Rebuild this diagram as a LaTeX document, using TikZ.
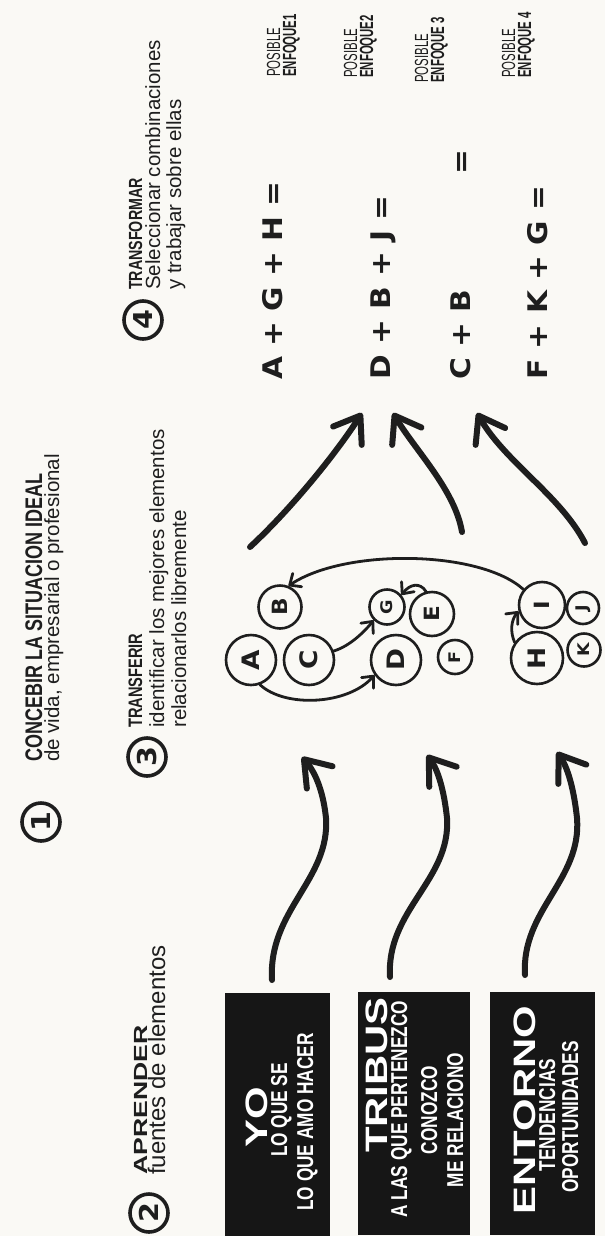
\documentclass[tikz,border=0pt]{standalone}
\usepackage{fontspec}
\setmainfont{Liberation Sans}
\newfontfamily\narrowfont[FakeStretch=0.75]{Liberation Sans}
\newfontfamily\tightfont[FakeStretch=0.6]{Liberation Sans}
\newfontfamily\widefont[FakeStretch=1.35]{Liberation Sans}
\newfontfamily\heavyfont[FakeStretch=1.1]{DejaVu Sans}
\usetikzlibrary{arrows.meta}
\definecolor{PaperBg}{RGB}{250,249,245}
\definecolor{InkDark}{RGB}{30,30,30}
\definecolor{BoxDark}{RGB}{22,22,22}
\newcommand{\up}[1]{\rotatebox{90}{#1}}

\begin{document}
\begin{tikzpicture}[
    x=1pt, y=-1pt,
    lbl/.style={rotate=90, anchor=base west, inner sep=0pt, text=InkDark},
    headline/.style={lbl, font=\narrowfont\bfseries\fontsize{#1}{#1}\selectfont},
    subline/.style={lbl, font=\fontsize{#1}{#1}\selectfont},
    subline/.default=20.5,
    numcirc/.style={circle, draw=InkDark, line width=3.6pt, minimum size=38pt, inner sep=0pt,
        text=InkDark, font=\heavyfont\bfseries\fontsize{26}{26}\selectfont},
    letter/.style={circle, draw=InkDark, line width=2.6pt, minimum size=#1, inner sep=0pt, text=InkDark},
    blackbox/.style={fill=BoxDark, inner sep=0pt, minimum height=243pt},
    boxtitle/.style={rotate=90, anchor=base, inner sep=0pt, text=white,
        font=\widefont\bfseries\fontsize{31}{31}\selectfont},
    boxline/.style={rotate=90, anchor=base, inner sep=0pt, text=white,
        font=\narrowfont\bfseries\fontsize{23}{23}\selectfont},
    formula/.style={lbl, font=\heavyfont\bfseries\fontsize{27}{27}\selectfont},
    posible/.style={lbl, font=\tightfont\fontsize{19}{19}\selectfont},
    enfoque/.style={lbl, font=\tightfont\bfseries\fontsize{19}{19}\selectfont},
    bigarrow/.style={draw=InkDark, line width=6pt, line cap=round,
        -{Straight Barb[length=24pt,width=34pt,round]}},
    thinarrow/.style={draw=InkDark, line width=2.8pt, line cap=round,
        -{Straight Barb[length=9pt,width=16pt,round]}}
 ]
\fill[PaperBg] (0,0) rectangle (605,1236);
\useasboundingbox (0,0) rectangle (605,1236);

% the four steps
\node[numcirc] (one) at (41,822) {\up{1}};
\node[headline=24] (concebir) at (42,762) {CONCEBIR LA SITUACION IDEAL};
\node[subline] (concebirsub) at (59,762) {de vida, empresarial o profesional};

\node[numcirc] (two) at (149,1213) {\up{2}};
\node[lbl, font=\bfseries\fontsize{19}{19}\selectfont] (aprender) at (147,1175) {\scalebox{1.4}[1]{APRENDER}};
\node[subline=24] (aprendersub) at (165,1175) {fuentes de elementos};

\node[numcirc] (three) at (147,757) {\up{3}};
\node[headline=19.5] (transferir) at (142,728) {TRANSFERIR};
\node[subline] (transferirsub) at (164,728) {identificar los mejores elementos};
\node[subline] (transferirsubb) at (186,728) {relacionarlos libremente};

\node[numcirc] (four) at (143,320) {\up{4}};
\node[headline=19] (transformar) at (142,290) {TRANSFORMAR};
\node[subline] (transformarsub) at (160,290) {Seleccionar combinaciones};
\node[subline] (transformarsubb) at (181,290) {y trabajar sobre ellas};

% sources
\node[blackbox, minimum width=105pt] (yo) at (277.5,1114.5) {};
\node[blackbox, minimum width=112pt] (tribus) at (414,1113) {};
\node[blackbox, minimum width=105pt] (entorno) at (542.5,1113) {};

\node[boxtitle] (yoT) at (267,1117) {YO};
\node[boxline] (yoA) at (287,1110) {LO QUE SE};
\node[boxline] (yoB) at (313,1122) {LO QUE AMO HACER};

\node[boxtitle] (tribusT) at (387,1075) {TRIBUS};
\node[boxline] (tribusA) at (407,1109) {A LAS QUE PERTENEZCO};
\node[boxline] (tribusB) at (437,1110) {CONOZCO};
\node[boxline] (tribusC) at (463,1120) {ME RELACIONO};

\node[boxtitle] (entornoT) at (535,1110) {ENTORNO};
\node[boxline] (entornoA) at (555,1115) {TENDENCIAS};
\node[boxline] (entornoB) at (578,1117) {OPORTUNIDADES};

% elements
\foreach \n/\x/\y/\d/\f in {A/251/660/50/24, B/280/607/43/21, C/309/660/50/24,
    G/387/607/35/16, D/396/660/50/24, E/432/614/44/21, F/455/657/34/16,
    I/542/605/46/21, J/583/608/32/16, H/537/658/52/24, K/584/650/33/16} {
    \node[letter=\d pt, font=\heavyfont\bfseries\fontsize{\f}{\f}\selectfont] (n\n) at (\x,\y) {\up{\n}};
}

\draw[thinarrow] (nI.140) .. controls (480,550) and (345,548) .. (nB.68);
\draw[thinarrow] (nE.105) .. controls (420,582) and (410,584) .. (nG.40);
\draw[thinarrow] (nC.20) .. controls (350,646) and (364,632) .. (nG.225);
\draw[thinarrow] (nA.-70) .. controls (285,708) and (348,705) .. (nD.215);
\draw[thinarrow] (nH.145) .. controls (510,632) and (511,620) .. (nI.195);

% from the sources to the elements
\coordinate (yoStart) at (272,980);
\coordinate (yoEnd) at (302,757);
\coordinate (tribusStart) at (390,977);
\coordinate (tribusEnd) at (427,755);
\coordinate (entornoStart) at (525,975);
\coordinate (entornoEnd) at (557,752);
\draw[bigarrow] (yoStart) .. controls (268,910) and (330,880) .. (326,818)
    .. controls (323,790) and (315,772) .. (yoEnd);
\draw[bigarrow] (tribusStart) .. controls (386,910) and (451,880) .. (447,818)
    .. controls (444,790) and (438,770) .. (tribusEnd);
\draw[bigarrow] (entornoStart) .. controls (521,910) and (582,880) .. (577,818)
    .. controls (574,790) and (568,768) .. (entornoEnd);

% from the elements to the combinations
\coordinate (upAs) at (250,547);
\coordinate (upAe) at (362,413);
\coordinate (upBs) at (462,532);
\coordinate (upBe) at (393,413);
\coordinate (upCs) at (585,543);
\coordinate (upCe) at (477,413);
\draw[bigarrow] (upAs) .. controls (290,510) and (335,455) .. (upAe);
\draw[bigarrow] (upBs) .. controls (455,490) and (415,450) .. (upBe);
\draw[bigarrow] (upCs) .. controls (560,495) and (505,462) .. (upCe);

% combinations
\node[formula] (combA) at (282,380) {A + G + H =};
\node[formula] (combB) at (390,380) {D + B + J =};
\node[formula] (combC) at (470,380) {C + B\hspace{115pt}=};
\node[formula] (combD) at (547,380) {F + K + G =};

\foreach \i/\x/\y/\lab in {1/280/77/ENFOQUE1, 2/357/78/ENFOQUE2, 3/428/83/ENFOQUE 3, 4/515/78/ENFOQUE 4} {
    \node[posible] (pos\i) at (\x,\y) {POSIBLE};
    \node[enfoque] (enf\i) at (\x+16,\y) {\lab};
}

\end{tikzpicture}
\end{document}
